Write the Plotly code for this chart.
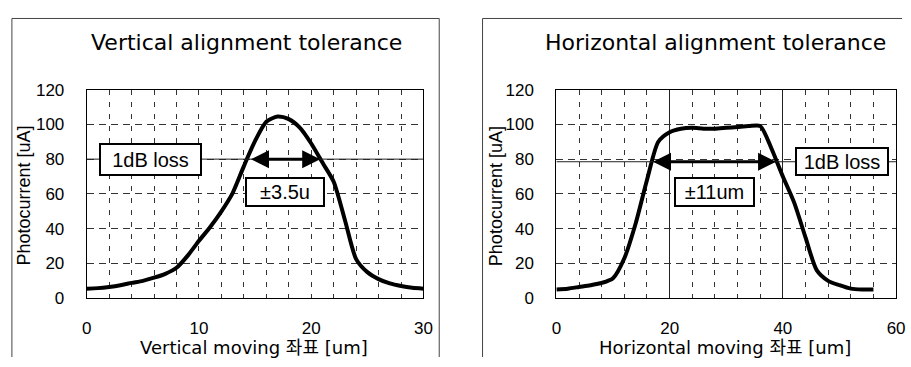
import plotly.graph_objects as go

# ---------------- data ----------------
vert_x = list(range(0, 31))
vert_y = [5.5, 5.8, 6.5, 7.5, 8.8, 10, 11.8, 14, 17.5, 24.5, 33, 41, 50, 60.5, 76,
          90.5, 101.5, 104.5, 103, 98, 89, 78, 67, 45, 22.5, 15, 11, 8.5, 7, 6, 5.5]

horiz_x = list(range(0, 57, 2))
horiz_y = [5, 5.5, 6.5, 7.5, 8.8, 11.5, 23, 43, 68, 90, 95.5, 97.5, 98, 97.5, 97.5,
           98, 98.5, 99, 99, 86, 70, 55, 35, 16, 10, 7.5, 5.5, 5, 5]

vert_ticks = [0, 10, 20, 30]
horiz_ticks = [0, 20, 40, 60]
y_ticks = [0, 20, 40, 60, 80, 100, 120]

vert_loss_level = 80
vert_arrow = [14.5, 20.8]
horiz_loss_level = 78.5
horiz_arrow = [16.8, 38.8]

titles = ["Vertical alignment tolerance", "Horizontal alignment tolerance"]
xtitles = ["Vertical moving 좌표 [um]", "Horizontal moving 좌표 [um]"]
ytitle = "Photocurrent [uA]"

# ---------------- figure ----------------
W, H = 911, 367
BASE = "Liberation Sans, Arial, Noto Sans CJK KR, sans-serif"
WIDE = "DejaVu Sans, Noto Sans CJK KR, sans-serif"

def px(v):
    return v / W

def py(v):
    return 1 - v / H

fig = go.Figure()
fig.add_trace(go.Scatter(x=vert_x, y=vert_y, mode="lines",
                         line=dict(color="black", width=4, shape="spline", smoothing=0.7),
                         xaxis="x", yaxis="y", showlegend=False, hoverinfo="skip"))
fig.add_trace(go.Scatter(x=horiz_x, y=horiz_y, mode="lines",
                         line=dict(color="black", width=4, shape="spline", smoothing=0.7),
                         xaxis="x2", yaxis="y2", showlegend=False, hoverinfo="skip"))

grid_col = "#333333"
ydom = [py(305), py(85)]

def yaxis_cfg():
    return dict(range=[0, 120], tickvals=y_ticks, domain=ydom,
                showgrid=True, gridcolor=grid_col, gridwidth=1, griddash="7px,5px",
                zeroline=False, showline=True, linecolor="black", linewidth=1, mirror=True,
                ticks="", ticklabelstandoff=18,
                tickfont=dict(family=BASE, size=17, color="black"))

fig.update_layout(
    width=W, height=H,
    margin=dict(l=0, r=0, t=0, b=0),
    paper_bgcolor="white", plot_bgcolor="white",
    xaxis=dict(range=[0, 30], tickvals=vert_ticks, domain=[px(83), px(425)],
               showgrid=True, gridcolor=grid_col, gridwidth=1, griddash="5px,7px",
               minor=dict(dtick=2, tick0=0, showgrid=True, gridcolor=grid_col,
                          gridwidth=1, griddash="5px,7px"),
               zeroline=False, showline=True, linecolor="black", linewidth=1, mirror=True,
               ticks="", ticklabelstandoff=14,
               tickfont=dict(family=BASE, size=17, color="black"), anchor="y"),
    yaxis=dict(anchor="x", **yaxis_cfg()),
    xaxis2=dict(range=[0, 60], tickvals=horiz_ticks, domain=[px(560), px(905)],
                showgrid=True, gridcolor="#222222", gridwidth=1,
                minor=dict(dtick=4, tick0=0, showgrid=True, gridcolor=grid_col,
                           gridwidth=1, griddash="5px,7px"),
                zeroline=False, showline=True, linecolor="black", linewidth=1, mirror=True,
                ticks="", ticklabelstandoff=14,
                tickfont=dict(family=BASE, size=17, color="black"), anchor="y2"),
    yaxis2=dict(anchor="x2", **yaxis_cfg()),
)

shapes = []
# panel borders
bc = "#444444"
shapes += [
    dict(type="line", xref="paper", yref="paper", x0=px(7), x1=px(441), y0=py(10), y1=py(10), line=dict(color=bc, width=1)),
    dict(type="line", xref="paper", yref="paper", x0=px(7), x1=px(7), y0=py(10), y1=0, line=dict(color=bc, width=1)),
    dict(type="line", xref="paper", yref="paper", x0=px(441), x1=px(441), y0=py(10), y1=0, line=dict(color=bc, width=1)),
    dict(type="line", xref="paper", yref="paper", x0=px(485), x1=1, y0=py(10), y1=py(10), line=dict(color=bc, width=1)),
    dict(type="line", xref="paper", yref="paper", x0=px(485), x1=px(485), y0=py(10), y1=0, line=dict(color=bc, width=1)),
]
# 1dB loss reference lines
shapes += [
    dict(type="line", xref="x", yref="y", x0=0, x1=30, y0=vert_loss_level, y1=vert_loss_level,
         line=dict(color="#222222", width=1)),
    dict(type="line", xref="x2", yref="y2", x0=0, x1=60, y0=horiz_loss_level, y1=horiz_loss_level,
         line=dict(color="#222222", width=1)),
]
fig.update_layout(shapes=shapes)

ann = []
center = dict(xanchor="center", yanchor="middle", showarrow=False)
# titles
ann.append(dict(text=titles[0], xref="paper", yref="paper", x=px(245), y=py(35),
                font=dict(family=WIDE, size=22, color="black"), **center))
ann.append(dict(text=titles[1], xref="paper", yref="paper", x=px(722), y=py(35),
                font=dict(family=WIDE, size=22, color="black"), **center))
# axis titles
ann.append(dict(text=xtitles[0], xref="paper", yref="paper", x=px(253), y=py(357),
                font=dict(family=WIDE, size=18, color="black"), **center))
ann.append(dict(text=xtitles[1], xref="paper", yref="paper", x=px(731), y=py(357),
                font=dict(family=WIDE, size=18, color="black"), **center))
ann.append(dict(text=ytitle, xref="paper", yref="paper", x=px(19), y=py(197), textangle=-90,
                font=dict(family=BASE, size=18, color="black"), **center))
ann.append(dict(text=ytitle, xref="paper", yref="paper", x=px(498), y=py(197), textangle=-90,
                font=dict(family=BASE, size=18, color="black"), **center))
# arrows
ann.append(dict(text="", x=vert_arrow[1], y=vert_loss_level, ax=vert_arrow[0], ay=vert_loss_level,
                xref="x", yref="y", axref="x", ayref="y", showarrow=True,
                arrowhead=2, arrowside="end+start", arrowwidth=3, arrowsize=1.2, arrowcolor="black"))
ann.append(dict(text="", x=horiz_arrow[1], y=horiz_loss_level, ax=horiz_arrow[0], ay=horiz_loss_level,
                xref="x2", yref="y2", axref="x2", ayref="y2", showarrow=True,
                arrowhead=2, arrowside="end+start", arrowwidth=3, arrowsize=1.2, arrowcolor="black"))
# boxed labels
box = dict(showarrow=False, bgcolor="white", bordercolor="black", borderwidth=2,
           xanchor="center", yanchor="middle",
           font=dict(family=BASE, size=20, color="black"))
ann.append(dict(text="1dB loss", xref="x", yref="y", x=5.7, y=vert_loss_level,
                width=95, height=25, borderpad=2, **box))
ann.append(dict(text="±3.5u", xref="x", yref="y", x=17.7, y=61,
                width=72, height=22, borderpad=2, **box))
ann.append(dict(text="1dB loss", xref="x2", yref="y2", x=50.5, y=horiz_loss_level,
                width=87, height=22, borderpad=1.5, **box))
ann.append(dict(text="±11um", xref="x2", yref="y2", x=28, y=61,
                width=73, height=22, borderpad=2, **box))
fig.update_layout(annotations=ann)

fig.write_html("out.html", config={"displayModeBar": False},
               post_script="document.body.style.margin='0';")
